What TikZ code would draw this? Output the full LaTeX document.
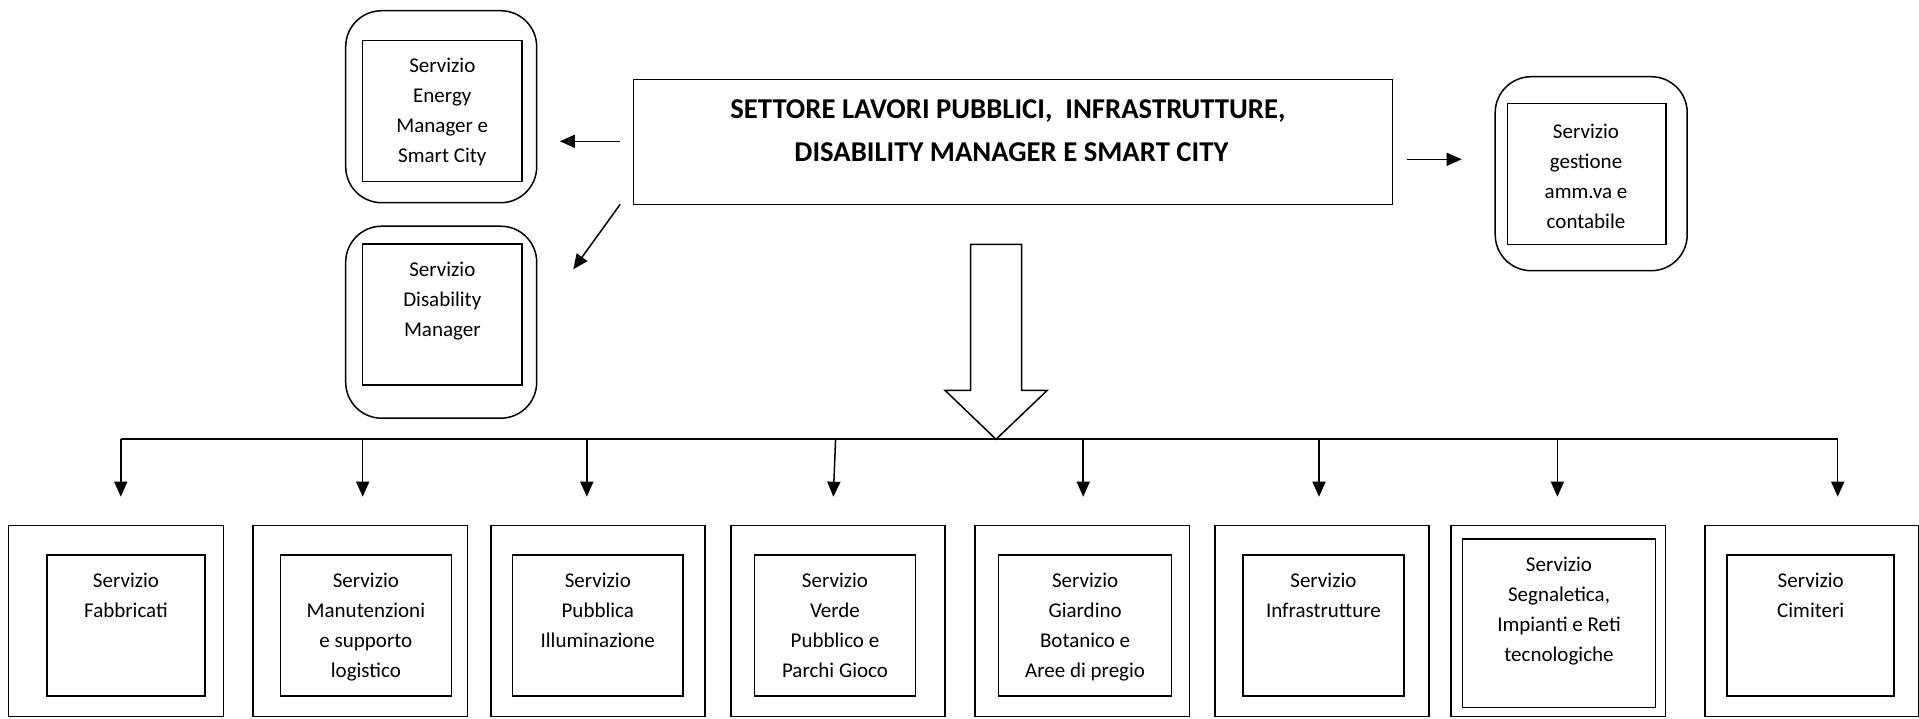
\documentclass[tikz,border=0pt]{standalone}
\usepackage{fontspec}
\setmainfont{Carlito}
\usetikzlibrary{arrows.meta}
\newcommand{\stk}[1]{\begin{tabular}[t]{@{}c@{}}#1\end{tabular}}
\begin{document}
\begin{tikzpicture}[x=1pt,y=-1pt,
  box/.style={draw, line width=1.5pt, inner sep=0pt},
  rbox/.style={box, rounded corners=36pt},
  txt/.style={anchor=base, inner sep=0pt, font=\fontsize{21}{30}\selectfont},
  conn/.style={line width=1.5pt, -{Triangle[length=15pt,width=13pt]}},
  bigarrow/.style={draw, line width=1.5pt, fill=white, line join=miter}
]
\useasboundingbox (0,0) rectangle (1919,718);

% main box
\node[box, minimum width=759pt, minimum height=125pt] (main) at (1013.2,142) {};
\node[anchor=base, inner sep=0pt, font=\fontsize{28.7}{43.4}\selectfont\bfseries] (title) at (1011.4,118.3)
  {\stk{SETTORE LAVORI PUBBLICI,\ \ INFRASTRUTTURE,\hspace*{7pt}\\DISABILITY MANAGER E SMART CITY}};

% Energy Manager
\node[rbox, minimum width=191pt, minimum height=192pt] (eo) at (441.2,106.7) {};
\node[box, minimum width=159.4pt, minimum height=141pt] (ei) at (442.3,111.2) {};
\node[txt] (et) at (442.3,72.5) {\stk{Servizio\\Energy\\Manager e\\Smart City}};

% Disability Manager
\node[rbox, minimum width=191pt, minimum height=192pt] (do) at (441.2,322.2) {};
\node[box, minimum width=159.4pt, minimum height=141pt] (di) at (442.3,314.5) {};
\node[txt] (dt) at (442.3,276) {\stk{Servizio\\Disability\\Manager}};

% Gestione
\node[rbox, minimum width=192pt, minimum height=194pt] (go) at (1591.2,173.7) {};
\node[box, minimum width=158.7pt, minimum height=141pt] (gi) at (1586.7,173.8) {};
\node[txt] (gt) at (1586,138.5) {\stk{Servizio\\gestione\\amm.va e\\contabile}};

% side arrows
\coordinate (aL1) at (620.2,141.3);
\coordinate (aL2) at (559.9,141.3);
\coordinate (aD1) at (620.2,204.3);
\coordinate (aD2) at (573.3,269.3);
\coordinate (aR1) at (1406.7,159.3);
\coordinate (aR2) at (1461.7,159.3);
\draw[conn] (aL1) -- (aL2);
\draw[conn] (aD1) -- (aD2);
\draw[conn] (aR1) -- (aR2);

% big arrow
\draw[bigarrow] (970.7,244.3) -- (1021.7,244.3) -- (1021.7,390.3) -- (1047.3,390.3)
  -- (996,439.3) coordinate (tip) -- (945,390.3) -- (970.7,390.3) -- cycle;

% bus
\coordinate (busL) at (120.8,439);
\coordinate (busR) at (1837.7,439);
\draw[line width=1.5pt] (busL) -- (busR);

% bottom boxes
\foreach \n/\ox/\ow/\ix/\iw in {1/116/215.3/126/158.4, 2/360.2/214.4/365.9/170.8, 3/598/214.4/597.8/170.8,
  4/838/214.4/835/160.9, 5/1082.2/214.7/1085.1/173.2, 6/1322/214.3/1323.4/160.9,
  8/1811.5/213.5/1810.7/167}{
  \node[box, minimum width=\ow pt, minimum height=191pt] (o\n) at (\ox,621.2) {};
  \node[box, minimum width=\iw pt, minimum height=141pt] (i\n) at (\ix,625.5) {};
}
\node[box, minimum width=214.4pt, minimum height=191pt] (o7) at (1558.4,621.2) {};
\node[box, minimum width=192.6pt, minimum height=168.3pt] (i7) at (1559,623.2) {};

\node[txt] (t1) at (126,587) {\stk{Servizio\\Fabbricati}};
\node[txt] (t2) at (365.9,587) {\stk{Servizio\\Manutenzioni\\e supporto\\logistico}};
\node[txt] (t3) at (597.8,587) {\stk{Servizio\\Pubblica\\Illuminazione}};
\node[txt] (t4) at (835,587) {\stk{Servizio\\Verde\\Pubblico e\\Parchi Gioco}};
\node[txt] (t5) at (1085.1,587) {\stk{Servizio\\Giardino\\Botanico e\\Aree di pregio}};
\node[txt] (t6) at (1323.4,587) {\stk{Servizio\\Infrastrutture}};
\node[txt] (t7) at (1559,571) {\stk{Servizio\\Segnaletica,\\Impianti e Reti\\tecnologiche}};
\node[txt] (t8) at (1810.7,587) {\stk{Servizio\\Cimiteri}};

% down arrows
\foreach \n/\ax/\bx in {1/120.8/120.8, 2/362.7/362.7, 3/586.8/586.8, 4/835.6/833.3,
  5/1083.2/1083.2, 6/1319/1319, 7/1557.4/1557.4, 8/1837.7/1837.7}{
  \coordinate (s\n) at (\ax,439);
  \coordinate (e\n) at (\bx,496.7);
  \draw[conn] (s\n) -- (e\n);
}
\end{tikzpicture}
\end{document}
